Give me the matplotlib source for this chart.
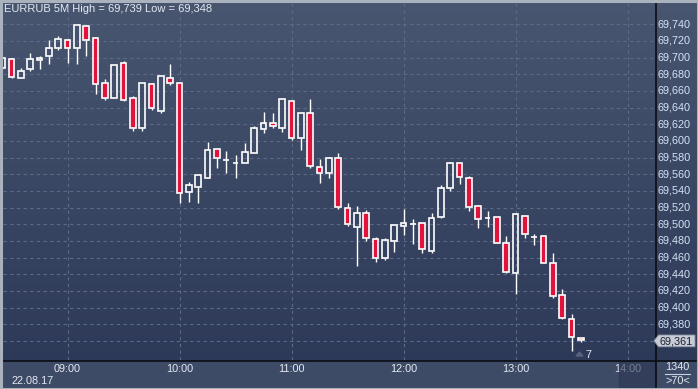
import numpy as np
import pandas as pd
import matplotlib
matplotlib.use("Agg")
import matplotlib.pyplot as plt
from matplotlib.patches import Rectangle, Polygon
from matplotlib.lines import Line2D
from matplotlib.transforms import blended_transform_factory

plt.rcParams['font.family'] = ['Liberation Sans Narrow', 'Liberation Sans', 'DejaVu Sans']

W, H = 698, 389

# ── données : EURRUB 5M, 22.08.17, 08:25 → 13:35 ──
times = pd.date_range("2017-08-22 08:25", periods=63, freq="5min")

opens = [69687, 69698, 69675, 69686, 69697, 69702, 69712, 69721, 69712, 69738,
         69723, 69669, 69652, 69693, 69651, 69615, 69668, 69636, 69676, 69669,
         69539, 69545, 69556, 69590, 69577, 69574, 69573, 69586, 69614, 69622,
         69615, 69648, 69603, 69634, 69569, 69561, 69580, 69520, 69497, 69513,
         69482, 69459, 69480, 69498, 69500, 69501, 69468, 69509, 69543, 69574,
         69556, 69522, 69507, 69509, 69478, 69441, 69510, 69485, 69486, 69453,
         69415, 69386, 69364]
highs = [69700, 69699, 69687, 69706, 69702, 69721, 69726, 69722, 69739, 69739,
         69724, 69674, 69691, 69696, 69654, 69669, 69670, 69678, 69692, 69669,
         69551, 69559, 69599, 69592, 69588, 69583, 69597, 69618, 69635, 69634,
         69650, 69648, 69633, 69650, 69578, 69581, 69585, 69525, 69522, 69517,
         69485, 69484, 69499, 69518, 69506, 69501, 69513, 69547, 69575, 69574,
         69558, 69522, 69516, 69509, 69486, 69514, 69510, 69488, 69486, 69466,
         69422, 69392, 69364]
lows = [69686, 69676, 69675, 69684, 69686, 69692, 69709, 69694, 69692, 69702,
        69656, 69649, 69651, 69648, 69612, 69612, 69637, 69633, 69667, 69525,
        69527, 69525, 69556, 69567, 69562, 69555, 69573, 69586, 69610, 69616,
        69611, 69601, 69589, 69568, 69549, 69556, 69518, 69498, 69450, 69480,
        69455, 69457, 69467, 69487, 69476, 69465, 69465, 69507, 69540, 69548,
        69516, 69495, 69497, 69477, 69442, 69416, 69483, 69475, 69453, 69411,
        69386, 69348, 69359]
closes = [69699, 69677, 69684, 69698, 69700, 69711, 69722, 69711, 69739, 69721,
          69668, 69651, 69691, 69649, 69615, 69669, 69639, 69678, 69670, 69538,
          69547, 69559, 69589, 69579, 69577, 69574, 69587, 69615, 69621, 69618,
          69650, 69603, 69633, 69570, 69562, 69579, 69521, 69500, 69514, 69483,
          69460, 69481, 69499, 69501, 69500, 69470, 69507, 69544, 69573, 69557,
          69521, 69506, 69507, 69477, 69443, 69512, 69488, 69485, 69453, 69414,
          69387, 69365, 69361]

last_price = "69,361"
title = "EURRUB 5M High = 69,739 Low = 69,348"
hour_ticks = ["09:00", "10:00", "11:00", "12:00", "13:00", "14:00"]
date_label = "22.08.17"
y_ticks = list(range(69360, 69741, 20))

# ── couleurs ──
RED = "#e0133c"
GRID = "#5d6a86"
TXT = "#e4e9f2"
YTXT = "#d5e2f7"


def fx(x):
    return x / W


def fy(y):
    return 1 - y / H


fig = plt.figure(figsize=(W / 100, H / 100), dpi=100)

# fond dégradé
bg = fig.add_axes([0, 0, 1, 1], zorder=-2)
grad = np.linspace(0, 1, 256).reshape(-1, 1)
top, bot = np.array([0x48, 0x56, 0x70]) / 255, np.array([0x2b, 0x37, 0x56]) / 255
img = top + (bot - top) * grad[..., None]
bg.imshow(img, aspect="auto", extent=[0, 1, 0, 1])
bg.set_xlim(0, 1)
bg.set_ylim(0, 1)
bg.axis("off")

# ─────────────────────────────────────────────────────────────
# ZONE DU GRAPHIQUE
# ─────────────────────────────────────────────────────────────
x0, x1, y0, y1 = 3, 655, 3, 360
ax = fig.add_axes([fx(x0), fy(y1), (x1 - x0) / W, (y1 - y0) / H])
ax.set_facecolor("none")

minutes = np.array([(t - pd.Timestamp("2017-08-22 08:00")).total_seconds() / 60 for t in times])
o, h, l, c = map(np.array, (opens, highs, lows, closes))

ppm = 112 / 60  # pixels par minute
ax.set_xlim(60 - (67.5 - x0) / ppm, 60 + (x1 - 67.5) / ppm)
ax.set_ylim(69740 - (y1 - 24.3) * 1.2, 69740 + (24.3 - y0) * 1.2)

hour_min = [60 * (int(s[:2]) - 8) for s in hour_ticks]
ax.set_xticks(hour_min)
ax.set_xticklabels([])
ax.set_yticks(y_ticks)
ax.set_yticklabels([])
ax.tick_params(length=0)
ax.grid(True, color=GRID, ls=(0, (3, 3)), lw=0.8)
ax.set_axisbelow(True)
for s in ax.spines.values():
    s.set_visible(False)

body_lo = np.minimum(o, c)
body_hi = np.maximum(o, c)
ax.vlines(minutes, body_hi, h, color="white", lw=1.0, zorder=2)
ax.vlines(minutes, l, body_lo, color="white", lw=1.0, zorder=2)
ax.bar(minutes, body_hi - body_lo, bottom=body_lo, width=3.2,
       color=[RED if cc < oo else "none" for oo, cc in zip(o, c)],
       edgecolor="white", linewidth=1.2, zorder=3)

# libellés prix à droite (69,360 caché par l'étiquette du dernier prix)
tr_y = blended_transform_factory(ax.transAxes, ax.transData)
for v in y_ticks[1:]:
    ax.text((657 - x0) / (x1 - x0), v, f"{v:,}", transform=tr_y, ha="left", va="center",
            fontsize=7.8, color=YTXT, clip_on=False)

# libellés heures en bas
tr_x = blended_transform_factory(ax.transData, fig.transFigure)
for m, lab in zip(hour_min, hour_ticks):
    ax.text(m, fy(368.5), lab, transform=tr_x, ha="center", va="center",
            fontsize=7.8, color=TXT, clip_on=False)

# ─────────────────────────────────────────────────────────────
# BARRE DU BAS / CADRE
# ─────────────────────────────────────────────────────────────
fig.add_artist(Rectangle((fx(3), fy(387)), fx(693), (387 - 360.5) / H,
                         transform=fig.transFigure, color="#3e4b67", zorder=-1))
fig.text(fx(33), fy(380.5), date_label, ha="center", va="center", fontsize=7.8, color=TXT)
fig.add_artist(Rectangle((fx(619), fy(386.5)), fx(35.5), 26 / H, transform=fig.transFigure,
                         color="#2b3652", alpha=0.6, zorder=5))
fig.text(fx(677.5), fy(367.5), "1340", ha="center", va="center", fontsize=7.8, color=TXT)
fig.text(fx(677.5), fy(381), ">70<", ha="center", va="center", fontsize=7.8, color=TXT)
fig.add_artist(Line2D([fx(665), fx(690)], [fy(374), fy(374)], color="#c8d0dc", lw=0.8))

# séparateurs noirs
fig.add_artist(Line2D([fx(655.5), fx(655.5)], [fy(3), fy(387)], color="#0a0d14", lw=1.2, zorder=6))
fig.add_artist(Line2D([fx(3), fx(696)], [fy(360.5), fy(360.5)], color="#0a0d14", lw=1.2, zorder=6))

# étiquette dernier prix
fig.add_artist(Polygon([(fx(654), fy(340.8)), (fx(658.5), fy(335)), (fx(695), fy(335)),
                        (fx(695), fy(346.8)), (fx(658.5), fy(346.8))],
                       closed=True, transform=fig.transFigure, facecolor="#c6cbd4",
                       edgecolor="#8a92a3", lw=0.6, zorder=7))
fig.text(fx(676.5), fy(341), last_price, ha="center", va="center", fontsize=7.8,
         color="#1a2035", zorder=8)

# nombre de barres sous la dernière bougie
fig.text(fx(588.5), fy(355.5), "7", ha="center", va="center", fontsize=7.8, color=TXT)
fig.add_artist(Polygon([(fx(576), fy(356)), (fx(579.5), fy(352)), (fx(583), fy(356))],
                       closed=True, transform=fig.transFigure, color="#56627c", zorder=7))

# titre
fig.text(fx(4), fy(9.5), title, ha="left", va="center", fontsize=8, color=TXT)

# cadre gris clair
fig.add_artist(Rectangle((0.5 / W, 0.5 / H), 1 - 1 / W, 1 - 1 / H, transform=fig.transFigure,
                         fill=False, edgecolor="#aab2be", lw=2.2, zorder=9))

fig.savefig("out.png", dpi=100)
